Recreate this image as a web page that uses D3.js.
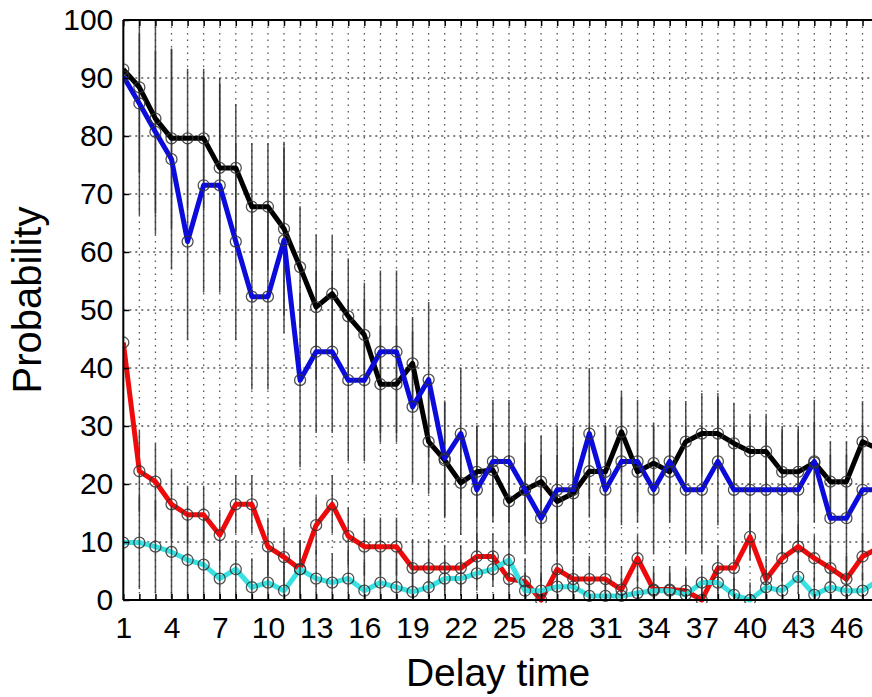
<!DOCTYPE html>
<html><head><meta charset="utf-8">
<script src="https://cdn.jsdelivr.net/npm/d3@7"></script>
<style>
html,body{margin:0;padding:0;background:#fff;overflow:hidden}
svg{display:block}
</style></head>
<body>
<svg id="chart" width="872" height="697"></svg>
<script>
const delays = [1,2,3,4,5,6,7,8,9,10,11,12,13,14,15,16,17,18,19,20,21,22,23,24,25,26,27,28,29,30,31,32,33,34,35,36,37,38,39,40,41,42,43,44,45,46,47,48];
const blackSeries = [91.5,88.4,83,79.6,79.6,79.6,74.5,74.5,67.8,67.8, 64,57.4,50.5,52.8,48.9,45.7,37.2,37.2,40.8,27.3, 24.1,20.2,22.1,22.4,17,19,20.4,17,18.4,22.2, 22.1,29,22.1,23.6,22.1,27.3,28.7,28.7,27,25.6, 25.6,22.1,22.1,23.7,20.4,20.4,27.3,26];
const blueSeries = [90.3,85.6,80.7,76,61.8,71.5,71.5,61.8,52.3,52.3, 62,37.9,42.8,42.8,37.9,37.9,42.8,42.8,33.3,38, 24.4,28.7,19,23.9,23.9,19,14.1,19,19,28.7, 19,23.9,23.9,19,23.9,19,19,23.9,19,19, 19,19,19,23.9,14.1,14.1,19,19];
const redSeries = [44.4,22.2,20.4,16.5,14.7,14.7,11.2,16.5,16.5,9.2, 7.4,5.3,12.9,16.5,11,9.2,9.2,9.2,5.5,5.5, 5.5,5.5,7.5,7.5,3.6,3.2,0,5.3,3.6,3.6, 3.6,1.8,7.2,1.8,1.8,1.6,0,5.5,5.5,10.9, 3.6,7.2,9.2,7.2,5.5,3.6,7.5,9];
const cyanSeries = [9.9,9.9,9.2,8.3,6.9,6.1,3.7,5.3,2.2,3, 1.6,5.3,3.7,3,3.7,1.6,3,2.2,1.4,2.2, 3.7,3.7,4.6,5.3,6.9,1.6,1.6,2.3,2.3,0.7, 0.7,0.7,1.2,1.6,1.6,0.9,3,3,0.9,0, 2.2,1.6,4,0.9,2.2,1.6,1.6,3.4];
const blackErr = [12,22,20,15.5,12,12,14.5,11,11,11, 15,10.5,12.5,10,10,9,10,10,8,9, 10,9,8,8,8,8,8,8,8,8, 8,7,7,7,7,7,7,7,7,6.5, 6.5,7,7,7,7,7,7,7];
const blueErr = [10,12,14,19,17,18.5,18.5,17,16,16, 16,15,14,14,14,14,14,14,13,13.4, 10,11.3,11,10.6,10.6,11,11,11,11,11.3, 11,11,10.6,11,10.6,11,11,11,11,11, 11,11,11,10.6,11,11,11,11];
const redErr = [8,7,6.6,6,5,5,4.3,5,5,5, 5,5,5,5,5,5,5,5,5,5, 4,4,4,4,4,4,4,4,4,4, 4,4,4,4,4,4,4,4,4,4, 4,4,4,4,4,4,4,4];
const cyanErr = [8,8,8,8,8,8,5,5,5,5, 5,5,5,5,5,5,5,5,5,5, 3,3,3,3,3,3,3,3,3,3, 3,3,3,3,3,3,3,3,3,3, 3,3,3,3,3,3,3,3];
const xTickLabels = [1,4,7,10,13,16,19,22,25,28,31,34,37,40,43,46];
const yTickLabels = [0,10,20,30,40,50,60,70,80,90,100];
const xTitle = "Delay time";
const yTitle = "Probability";

const series = [
  {name:"black", values:blackSeries, err:blackErr, color:"#000000"},
  {name:"blue", values:blueSeries, err:blueErr, color:"#0b0bdc"},
  {name:"red", values:redSeries, err:redErr, color:"#ee0a0a"},
  {name:"cyan", values:cyanSeries, err:cyanErr, color:"#38e2e2"}
];

const svg = d3.select("#chart");
const mLeft = 123.3, mTop = 20, mBottom = 600, unit = 16.07, mRight = 872;
const x = d3.scaleLinear().domain([1, 48]).range([mLeft, mLeft + 47*unit]);
const y = d3.scaleLinear().domain([0, 100]).range([mBottom, mTop]);
const FONT = "'Liberation Sans', Arial, Helvetica, sans-serif";

svg.append("defs").append("clipPath").attr("id","clip")
  .append("rect").attr("x", mLeft).attr("y", mTop-3).attr("width", mRight-mLeft+10).attr("height", mBottom-mTop+6);

// grid
const grid = svg.append("g");
grid.selectAll("line.vg").data(delays.filter(d => d > 1)).join("line")
  .attr("x1", d => x(d)).attr("x2", d => x(d)).attr("y1", mTop).attr("y2", mBottom)
  .attr("stroke", "#555").attr("stroke-width", 1.3).attr("stroke-dasharray", "1.5,5");
grid.selectAll("line.hg").data(yTickLabels.filter(d => d > 0 && d < 100)).join("line")
  .attr("x1", mLeft).attr("x2", mRight).attr("y1", d => y(d)).attr("y2", d => y(d))
  .attr("stroke", "#555").attr("stroke-width", 1.3).attr("stroke-dasharray", "2,4");

const plot = svg.append("g").attr("clip-path", "url(#clip)");

function errBars(s, g) {
  g.selectAll("line").data(s.values.map((v,i) => ({x:delays[i], v, e:s.err[i]}))).join("line")
    .attr("x1", d => x(d.x)).attr("x2", d => x(d.x))
    .attr("y1", d => y(Math.min(100, d.v + d.e))).attr("y2", d => y(Math.max(0, d.v - d.e)))
    .attr("stroke", "#333").attr("stroke-width", 1.5).attr("stroke-opacity", 0.85);
}
series.slice(0,3).forEach(s => errBars(s, plot.append("g")));

const line = d3.line().x((d,i) => x(delays[i])).y(d => y(d));
series.forEach(s => {
  plot.append("path").datum(s.values).attr("d", line)
    .attr("fill", "none").attr("stroke", s.color).attr("stroke-width", 5)
    .attr("stroke-linejoin", "round");
});
errBars(series[3], plot.append("g"));

series.forEach(s => {
  plot.append("g").selectAll("circle").data(s.values).join("circle")
    .attr("cx", (d,i) => x(delays[i])).attr("cy", d => y(d)).attr("r", 5.5)
    .attr("fill", "none").attr("stroke", "#333").attr("stroke-width", 1.3).attr("stroke-opacity", 0.85);
});

// axes frame
svg.append("line").attr("x1", mLeft).attr("x2", mRight).attr("y1", mTop).attr("y2", mTop).attr("stroke", "#000").attr("stroke-width", 2);
svg.append("line").attr("x1", mLeft).attr("x2", mRight).attr("y1", mBottom).attr("y2", mBottom).attr("stroke", "#000").attr("stroke-width", 2);
svg.append("line").attr("x1", mLeft).attr("x2", mLeft).attr("y1", mTop).attr("y2", mBottom).attr("stroke", "#000").attr("stroke-width", 2);

// minor ticks (all integers) top and bottom
const tb = d3.axisBottom(x).tickValues(delays).tickSize(-6).tickFormat("");
svg.append("g").attr("transform", `translate(0,${mBottom})`).call(tb).call(g => g.select(".domain").remove())
  .selectAll("line").attr("stroke", "#000").attr("stroke-width", 1.5);
const tt = d3.axisTop(x).tickValues(delays).tickSize(-6).tickFormat("");
svg.append("g").attr("transform", `translate(0,${mTop})`).call(tt).call(g => g.select(".domain").remove())
  .selectAll("line").attr("stroke", "#000").attr("stroke-width", 1.5);
const tl = d3.axisLeft(y).tickValues(yTickLabels).tickSize(-6).tickFormat("");
svg.append("g").attr("transform", `translate(${mLeft},0)`).call(tl).call(g => g.select(".domain").remove())
  .selectAll("line").attr("stroke", "#000").attr("stroke-width", 1.5);

// labels
const xl = d3.axisBottom(x).tickValues(xTickLabels).tickSize(0).tickPadding(17);
svg.append("g").attr("transform", `translate(0,${mBottom})`).call(xl)
  .call(g => g.select(".domain").remove())
  .selectAll("text").attr("font-size", 30).attr("font-family", FONT).attr("fill", "#000");
const yl = d3.axisLeft(y).tickValues(yTickLabels).tickSize(0).tickPadding(10);
svg.append("g").attr("transform", `translate(${mLeft},0)`).call(yl)
  .call(g => g.select(".domain").remove())
  .selectAll("text").attr("font-size", 30).attr("font-family", FONT).attr("fill", "#000");

svg.append("text").attr("x", 498).attr("y", 686).attr("text-anchor", "middle")
  .attr("font-size", 39).attr("font-family", FONT).text(xTitle);
svg.append("text").attr("transform", "translate(41,300) rotate(-90)").attr("text-anchor", "middle")
  .attr("font-size", 40).attr("font-family", FONT).text(yTitle);
</script>
</body></html>
